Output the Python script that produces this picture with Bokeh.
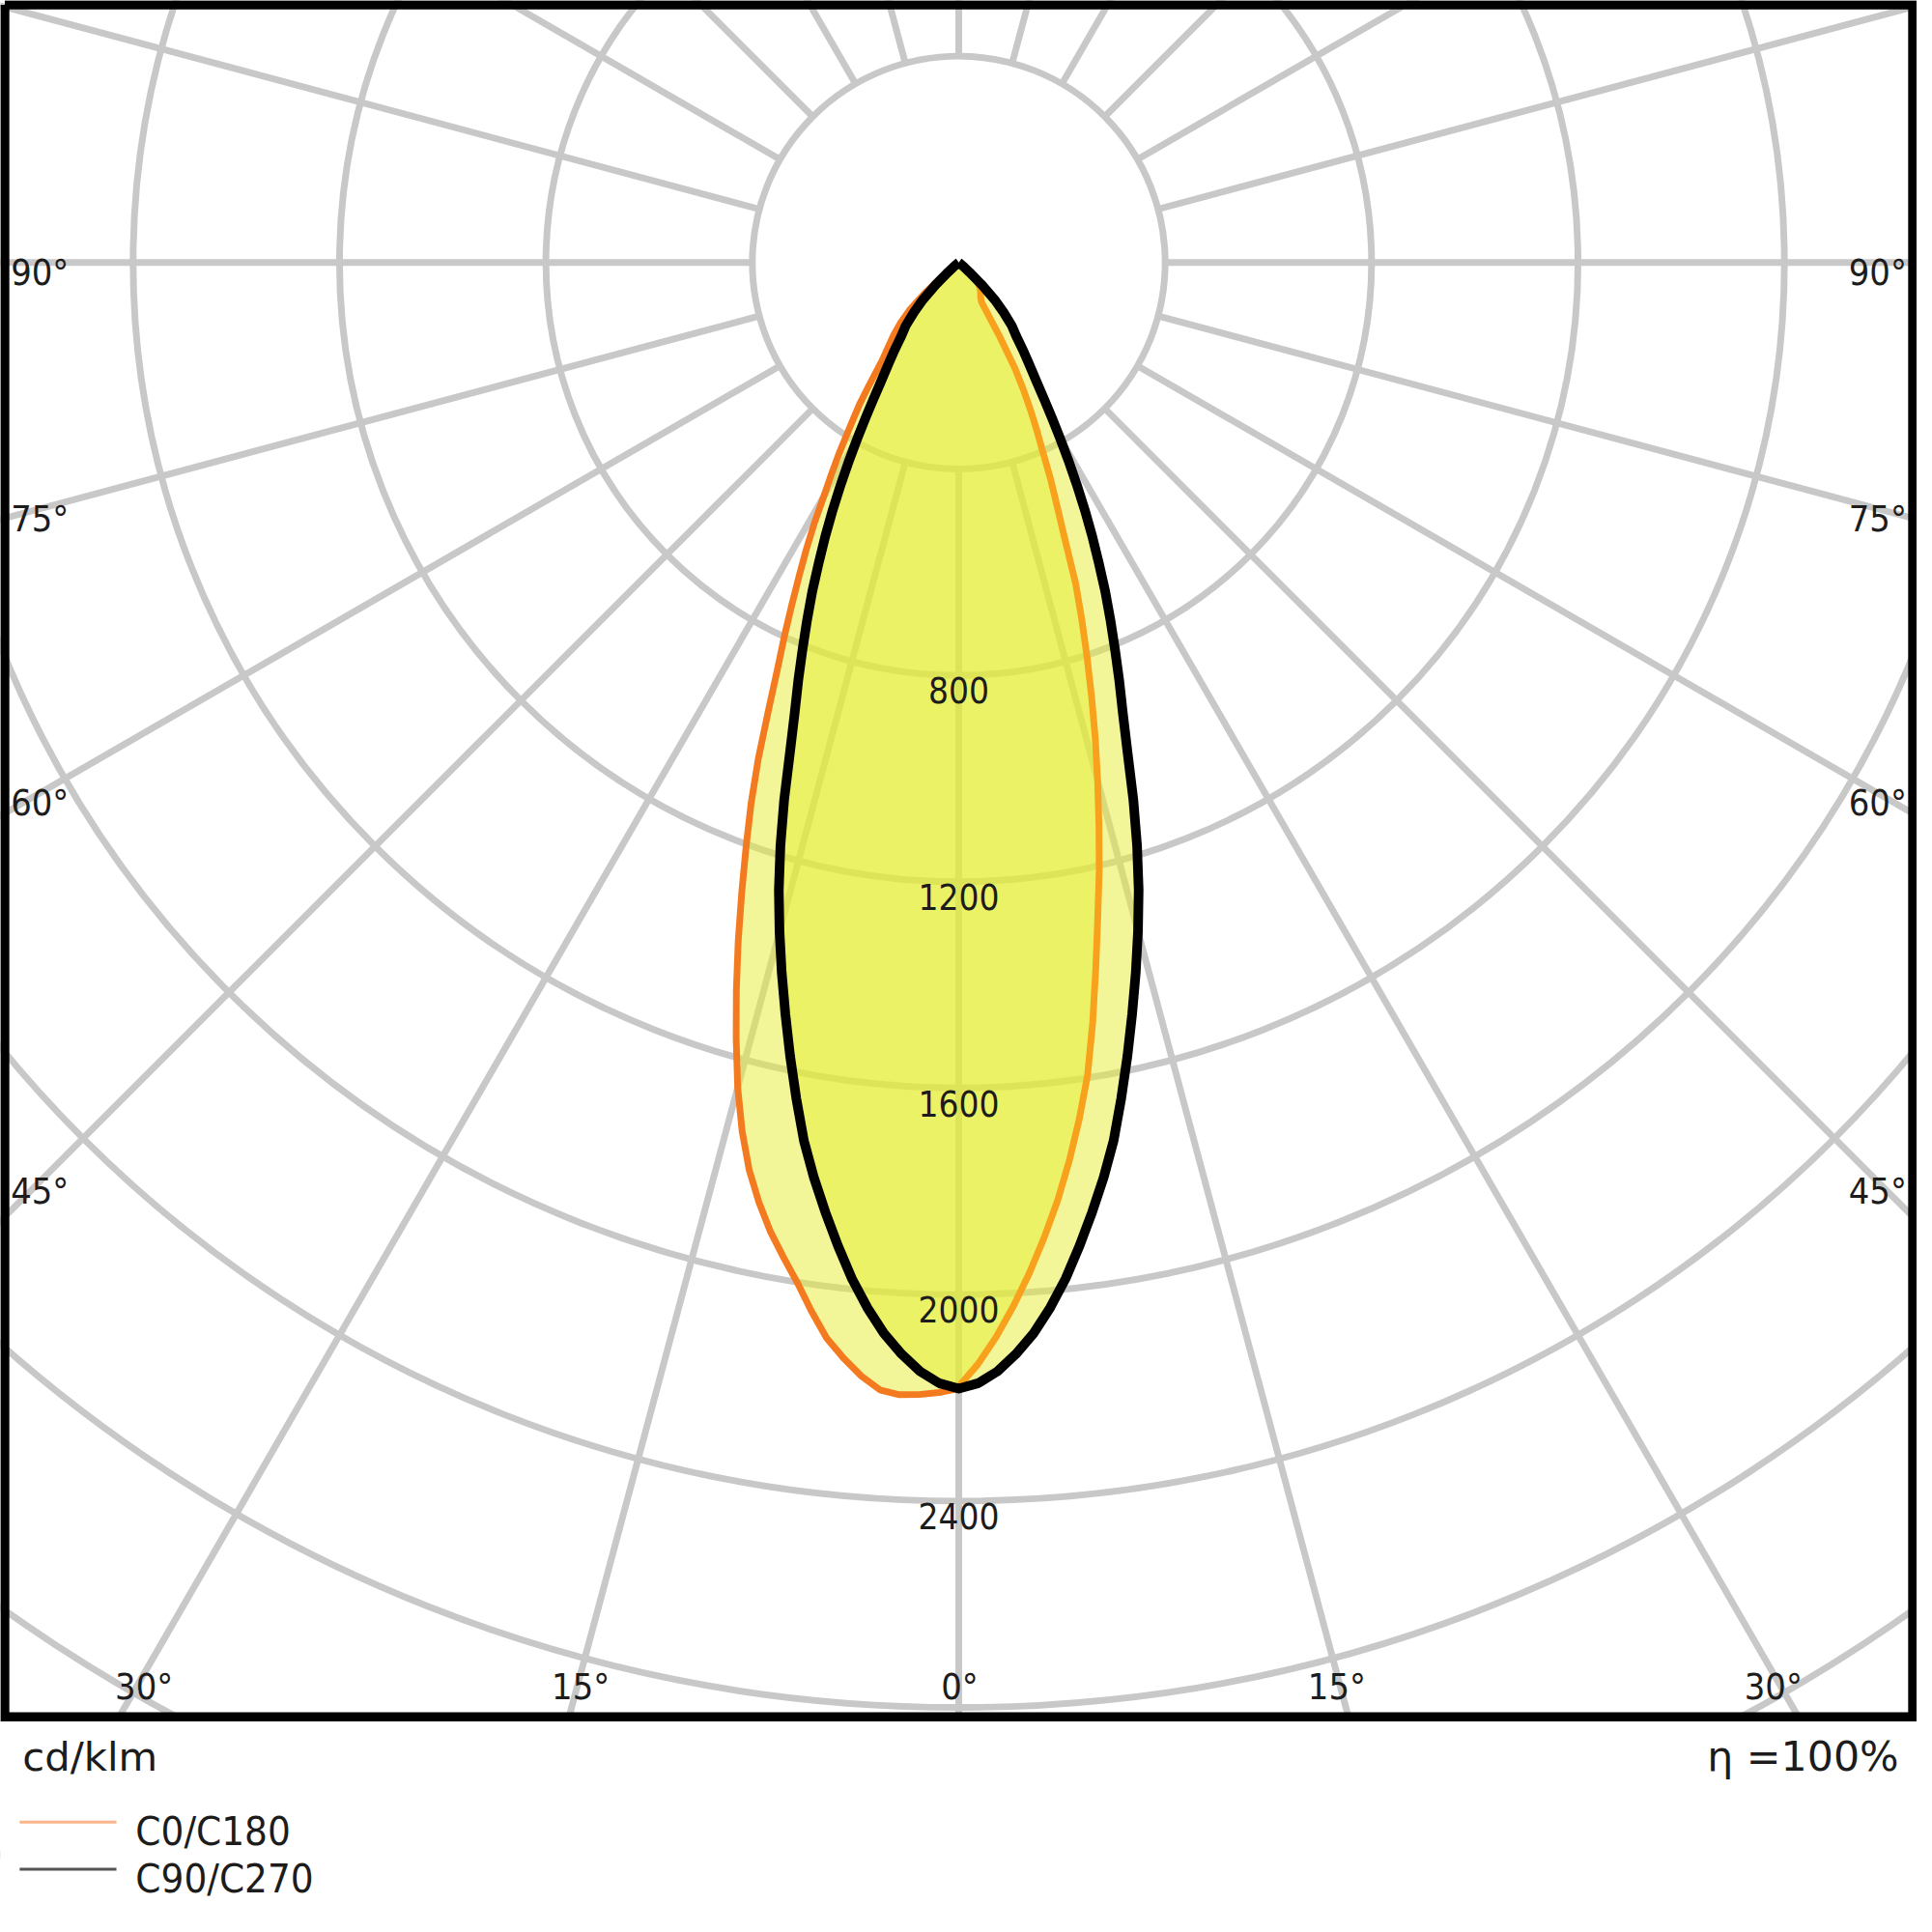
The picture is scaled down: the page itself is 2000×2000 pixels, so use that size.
import numpy as np
from bokeh.plotting import figure
from bokeh.models import Range1d
from bokeh.core.properties import value
from bokeh.embed import file_html
from bokeh.resources import INLINE

# ---------------- data (cd/klm), gamma in degrees from nadir ----------------
GAMMA = [0, 1, 2, 3, 4, 5, 6, 7, 8, 9, 10, 11, 12, 13, 14, 15, 16, 17, 18, 19,
         20, 21, 22, 23, 24, 25, 26, 27, 28, 29, 30, 31, 32, 33, 34, 35, 36, 37, 38,
         40, 42, 44, 46, 48, 50, 55, 60, 70, 80, 90]
C0 = [2178, 2135, 2083, 2025, 1963, 1897, 1829, 1755, 1677, 1595, 1495, 1392, 1296, 1210,
      1123, 1040, 960, 881, 805, 733, 663, 574, 508, 455, 399, 357, 316, 275, 232, 160,
      88, 84, 80, 78, 76, 74, 72, 70, 68,
      64, 58, 50, 36, 20, 8, 0, 0, 0, 0, 0]
C180 = [2182, 2190, 2195, 2197, 2190, 2166, 2135, 2100, 2052, 2001, 1957, 1913, 1862, 1805,
        1735, 1655, 1565, 1474, 1383, 1292, 1205, 1123, 1037, 945, 865, 800, 738, 681, 629,
        577, 523, 480, 440, 400, 365, 335, 300, 268, 242,
        212, 188, 162, 133, 90, 40, 5, 0, 0, 0, 0]
C90 = [2182, 2172, 2150, 2118, 2080, 2033, 1980, 1920, 1858, 1795, 1728, 1650, 1572, 1494,
       1418, 1342, 1265, 1182, 1095, 1005, 930, 868, 808, 752, 698, 642, 590, 538, 487,
       438, 392, 350, 312, 280, 255, 234, 215, 197, 181,
       160, 130, 100, 62, 28, 10, 2, 0, 0, 0, 0]
C270 = [2182, 2172, 2150, 2118, 2080, 2033, 1980, 1920, 1858, 1795, 1728, 1650, 1572, 1494,
        1418, 1342, 1265, 1182, 1095, 1005, 930, 868, 808, 752, 698, 642, 590, 538, 487,
        438, 392, 350, 312, 280, 255, 234, 215, 197, 181,
        160, 130, 100, 62, 28, 10, 2, 0, 0, 0, 0]

RING_VALUES = [400, 800, 1200, 1600, 2000, 2400, 2800, 3200, 3600, 4000, 4400]
RING_LABEL_VALUES = [800, 1200, 1600, 2000, 2400]
RADIAL_ANGLES = list(range(0, 360, 15))
SIDE_LABEL_ANGLES = [90, 75, 60, 45]
BOTTOM_LABEL_ANGLES = [15, 30]
UNIT_TEXT = "cd/klm"
ETA_TEXT = "η =100%"
LEGEND_NAMES = ["C0/C180", "C90/C270"]

# ---------------- layout / style (reference-image pixel coordinates) ----------------
W = H = 1984
S = W / 2000.0                  # figure px per reference px
CX, CY = 1000.0, 273.5          # pole position in reference px
K = 0.5385                      # reference px per cd
GRID = "#c8c8c8"
FILL = "#e6ee32"
ORANGE_L = "#f47a20"
ORANGE_R = "#f8a11c"
TXT = "#1c1c1c"
FONT_NARROW = "DejaVu Sans Condensed"
FONT_MAIN = "DejaVu Sans"


def px(X):
    return (X - CX) / K


def py(Y):
    return (CY - Y) / K


def fs(v):
    return f"{v * S:.1f}px"


p = figure(width=W, height=H,
           x_range=Range1d(px(0), px(2000)),
           y_range=Range1d(py(2000), py(0)),
           output_backend="svg", toolbar_location=None,
           x_axis_location=None, y_axis_location=None,
           min_border=0, outline_line_color=None)
p.grid.visible = False
p.background_fill_color = "white"
p.border_fill_color = "white"

# rings
p.circle(x=[0] * len(RING_VALUES), y=[0] * len(RING_VALUES), radius=RING_VALUES,
         fill_color=None, line_color=GRID, line_width=7 * S)
# radial lines (start at the first ring)
th = np.radians(RADIAL_ANGLES)
r0, r1 = RING_VALUES[0], 8000
p.segment(x0=r0 * np.sin(th), y0=-r0 * np.cos(th), x1=r1 * np.sin(th), y1=-r1 * np.cos(th),
          line_color=GRID, line_width=7 * S)

g = np.radians(GAMMA)


def half(vals, side):
    v = np.array(vals, dtype=float)
    return side * v * np.sin(g), -v * np.cos(g)


# C0/C180 curve
xl, yl = half(C180, -1)
xr, yr = half(C0, 1)
p.patch(np.concatenate([xl[::-1], xr]), np.concatenate([yl[::-1], yr]),
        fill_color=FILL, fill_alpha=0.5, line_color=None)
# C90/C270 curve
xl2, yl2 = half(C270, -1)
xr2, yr2 = half(C90, 1)
bx = np.concatenate([xl2[::-1], xr2])
by = np.concatenate([yl2[::-1], yr2])
p.patch(bx, by, fill_color=FILL, fill_alpha=0.5, line_color=None)

p.line(xl, yl, line_color=ORANGE_L, line_width=7 * S, line_join="round")
p.line(xr, yr, line_color=ORANGE_R, line_width=7 * S, line_join="round")
p.line(bx, by, line_color="black", line_width=10 * S, line_join="round")

# ring labels
p.text(x=[0] * len(RING_LABEL_VALUES), y=[-(v + 29) for v in RING_LABEL_VALUES],
       text=[str(v) for v in RING_LABEL_VALUES], text_align="center", text_baseline="middle",
       text_font=value(FONT_NARROW), text_font_size=fs(37), text_color=TXT)

# angle labels on the sides and along the bottom
sx, sy, st = [], [], []
for a in SIDE_LABEL_ANGLES:
    dx = CX - 41.0
    ypg = CY + dx * np.cos(np.radians(a)) / max(np.sin(np.radians(a)), 1e-9) + 10
    for sgn in (-1, 1):
        sx.append(px(CX + sgn * dx))
        sy.append(py(ypg))
        st.append(f"{a}°")
for a in BOTTOM_LABEL_ANGLES:
    dxb = (1746 - CY) * np.tan(np.radians(a))
    for sgn in (-1, 1):
        sx.append(px(CX + sgn * dxb))
        sy.append(py(1760))
        st.append(f"{a}°")
sx.append(px(CX + 1))
sy.append(py(1760))
st.append("0°")
p.text(x=sx, y=sy, text=st, text_align="center", text_baseline="middle",
       text_font=value(FONT_NARROW), text_font_size=fs(38), text_color=TXT)

# white area below the frame
p.quad(left=px(-20), right=px(2020), top=py(1791), bottom=py(2020),
       fill_color="white", line_color=None)
# frame
p.line([px(4.5), px(1995.5), px(1995.5), px(4.5), px(4.5)],
       [py(4.5), py(4.5), py(1791), py(1791), py(4.5)],
       line_color="black", line_width=9.5 * S, line_join="miter")

# footer texts
p.text(x=[px(23)], y=[py(1833)], text=[UNIT_TEXT], text_align="left", text_baseline="middle",
       text_font=value(FONT_MAIN), text_font_size=fs(42), text_color=TXT)
p.text(x=[px(1981)], y=[py(1832)], text=[ETA_TEXT], text_align="right", text_baseline="middle",
       text_font=value(FONT_MAIN), text_font_size=fs(43), text_color=TXT)

# legend
p.segment(x0=[px(20), px(20)], y0=[py(1901), py(1950)], x1=[px(121), px(121)], y1=[py(1901), py(1950)],
          line_color=["#f9b48a", "#555555"], line_width=3 * S)
p.text(x=[px(141), px(141)], y=[py(1910), py(1960)], text=LEGEND_NAMES,
       text_align="left", text_baseline="middle",
       text_font=value(FONT_NARROW), text_font_size=fs(42), text_color=TXT)

open("out.html", "w").write(file_html(p, INLINE))
